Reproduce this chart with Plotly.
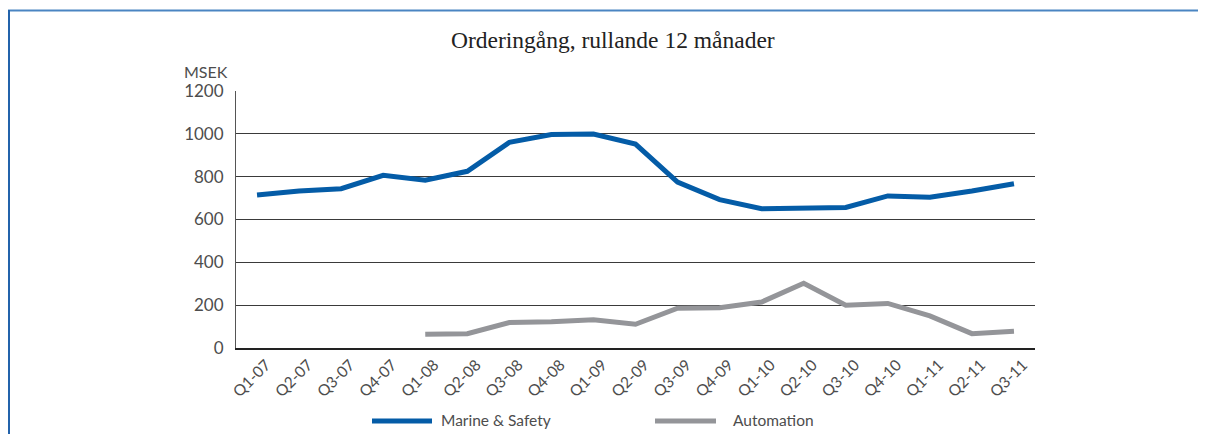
import plotly.graph_objects as go

quarters = ["Q1-07", "Q2-07", "Q3-07", "Q4-07", "Q1-08", "Q2-08", "Q3-08", "Q4-08",
            "Q1-09", "Q2-09", "Q3-09", "Q4-09", "Q1-10", "Q2-10", "Q3-10", "Q4-10",
            "Q1-11", "Q2-11", "Q3-11"]
marine_safety = [714, 733, 744, 806, 783, 825, 960, 997, 999, 952, 775, 693, 650, 651,
                 656, 710, 704, 733, 767]
automation = [None, None, None, None, 64, 67, 119, 122, 132, 111, 186, 188, 215, 302,
              200, 208, 150, 67, 78]
y_ticks = [0, 200, 400, 600, 800, 1000, 1200]

BLUE = "#045ca7"
GRAY = "#949599"
TXT = "#4d4d4d"
# the page body adds an 8px margin; work in window pixels and subtract it
OFF = 8
W, H = 1206 - OFF, 434 - OFF
L, R, T, B = 236 - OFF, 1035 - OFF, 91 - OFF, 348 - OFF

fig = go.Figure()
fig.add_trace(go.Scatter(x=quarters, y=marine_safety, mode="lines", name="Marine & Safety",
                         line=dict(color=BLUE, width=5), showlegend=False))
fig.add_trace(go.Scatter(x=quarters, y=automation, mode="lines", name="Automation",
                         line=dict(color=GRAY, width=5), showlegend=False))

def px(x):
    return (x - OFF - L) / (R - L)

def py(y):
    return (B - (y - OFF)) / (B - T)

shapes = []
# frame lines (top and left)
shapes.append(dict(type="line", xref="paper", yref="paper", x0=px(8), x1=px(1206),
                   y0=py(10.5), y1=py(10.5), line=dict(color="#4a85c2", width=2)))
shapes.append(dict(type="line", xref="paper", yref="paper", x0=px(9), x1=px(9),
                   y0=py(10), y1=py(434), line=dict(color="#2363ab", width=2)))
# legend swatches
shapes.append(dict(type="line", xref="paper", yref="paper", x0=px(372), x1=px(432),
                   y0=py(421), y1=py(421), line=dict(color=BLUE, width=5)))
shapes.append(dict(type="line", xref="paper", yref="paper", x0=px(655), x1=px(716),
                   y0=py(421), y1=py(421), line=dict(color=GRAY, width=5)))

annotations = [
    dict(text="Orderingång, rullande 12 månader", xref="paper", yref="paper",
         x=px(613), y=py(40), showarrow=False, xanchor="center", yanchor="middle",
         font=dict(family="Liberation Serif", size=23.5, color="#222222")),
    dict(text="MSEK", xref="paper", yref="paper", x=px(230), y=py(71), showarrow=False,
         xanchor="right", yanchor="middle",
         font=dict(family="Lato", size=16, color=TXT)),
    dict(text="Marine & Safety", xref="paper", yref="paper", x=px(439), y=py(420),
         showarrow=False, xanchor="left", yanchor="middle",
         font=dict(family="Lato", size=15.5, color=TXT)),
    dict(text="Automation", xref="paper", yref="paper", x=px(731), y=py(420),
         showarrow=False, xanchor="left", yanchor="middle",
         font=dict(family="Lato", size=15.5, color=TXT)),
]

fig.update_layout(
    width=W, height=H,
    margin=dict(l=L, r=W - R, t=T, b=H - B, pad=0),
    paper_bgcolor="white", plot_bgcolor="white",
    shapes=shapes, annotations=annotations,
    showlegend=False,
    font=dict(family="Lato", color=TXT),
)
fig.update_xaxes(
    type="category", categoryorder="array", categoryarray=quarters,
    range=[-0.5, len(quarters) - 0.5],
    showgrid=False, showline=True, linecolor="#222222", linewidth=1.5,
    tickangle=-45, tickfont=dict(family="Lato", size=15.5, color=TXT),
    ticks="", zeroline=False, ticklabelshift=9, ticklabelstandoff=0,
)
fig.update_yaxes(
    range=[0, 1200], tickvals=y_ticks, showgrid=True, gridcolor="#3a3a3a", gridwidth=1,
    showline=True, linecolor="#555555", linewidth=1, zeroline=False,
    tickfont=dict(family="Lato", size=17, color=TXT), ticks="",
    ticklabelstandoff=8,
)

fig.write_html("out.html")
